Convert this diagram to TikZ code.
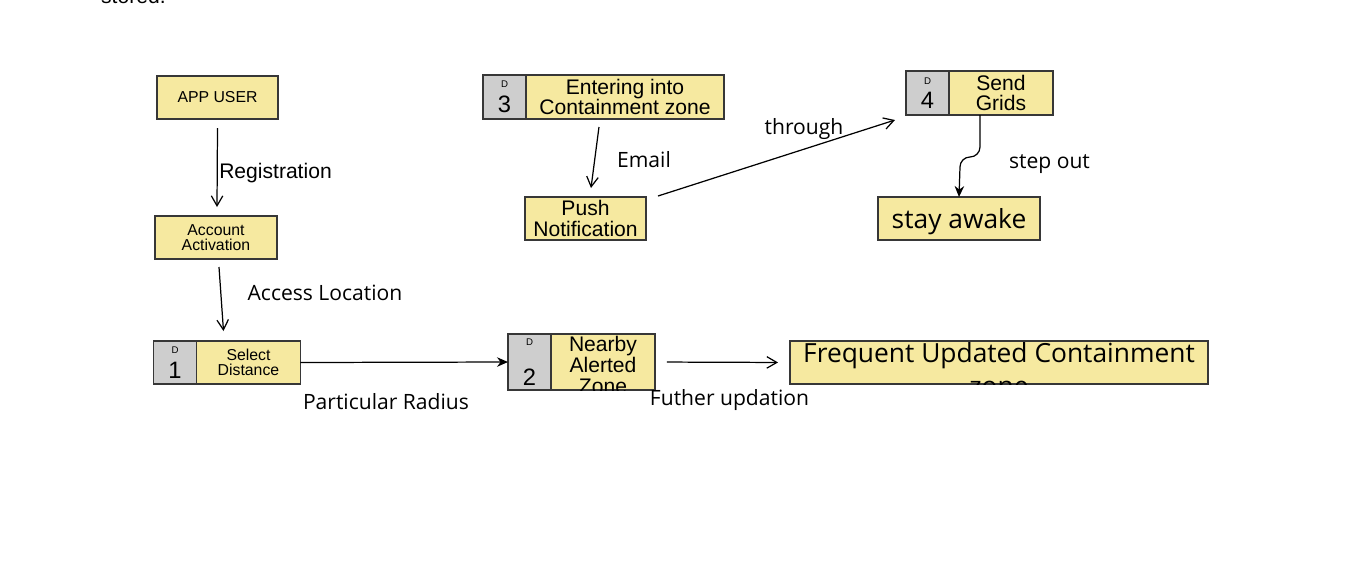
\documentclass[tikz,border=0pt]{standalone}
\usepackage{fontspec}
\setmainfont{Liberation Sans}
\newfontfamily\labelfont{Open Sans}
\usetikzlibrary{arrows.meta,positioning}

\definecolor{boxyellow}{RGB}{246,233,160}
\definecolor{boxgray}{RGB}{206,206,206}
\definecolor{edgegray}{RGB}{55,55,55}

\tikzset{
  procbox/.style={draw=edgegray, line width=0.85pt, fill=boxyellow, inner sep=0pt, outer sep=0pt, align=center, font=\fontsize{12}{11.5}\selectfont},
  idbox/.style={draw=edgegray, line width=0.85pt, fill=boxgray, inner sep=0pt, outer sep=0pt, align=center, minimum width=0.86cm, font=\fontsize{5.5}{13.5}\selectfont},
  lbl/.style={font=\labelfont\fontsize{12}{14}\selectfont, inner sep=0pt},
  flow/.style={-{Straight Barb[length=2mm,width=2.3mm]}, line width=0.7pt},
  solidflow/.style={-{Stealth[length=2.2mm,width=1.9mm]}, line width=0.7pt},
}
\newcommand{\dnum}[2][0pt]{D\\[#1]{\fontsize{13.5}{13.5}\selectfont #2}}

\begin{document}
\begin{tikzpicture}[x=0.02cm, y=-0.02cm]
\useasboundingbox (0,0) rectangle (1369,583);

% Nodes
\node[anchor=base west, font=\fontsize{12}{14}\selectfont] (stored) at (95,3) {stored.};
\node[procbox, font=\fontsize{9}{9}\selectfont, minimum width=2.42cm, minimum height=0.86cm] (appuser) at (217.5,97.5) {APP USER};
\node[procbox, font=\fontsize{9}{8.5}\selectfont, minimum width=2.44cm, minimum height=0.86cm] (activation) at (216,237.5) {Account\\Activation};

\node[idbox, minimum height=0.86cm] (d1id) at (175,362.5) {\dnum[0.5pt]{1}};
\node[procbox, font=\fontsize{9}{8.5}\selectfont, minimum width=2.08cm, minimum height=0.86cm, right=0pt of d1id] (d1name) {Select\\Distance};

\node[idbox, minimum height=1.12cm] (d2id) at (529.5,362) {\dnum[9.5pt]{2}};
\node[procbox, minimum width=2.08cm, minimum height=1.12cm, right=0pt of d2id] (d2name) {};
\begin{scope}
  \clip (d2name.north west) rectangle (d2name.south east);
  \node[align=center, inner sep=0pt, anchor=north, font=\fontsize{12}{12}\selectfont] (d2text) at ([yshift=-1]d2name.north) {Nearby\\Alerted\\Zone};
\end{scope}

\node[procbox, minimum width=8.36cm, minimum height=0.86cm] (frequent) at (999,362.5) {};
\begin{scope}
  \clip (frequent.north west) rectangle (frequent.south east);
  \node[align=center, inner sep=0pt, anchor=north, font=\labelfont\fontsize{15}{19}\selectfont] (freqtext) at ([yshift=-0.5]frequent.north) {Frequent Updated Containment\\zone};
\end{scope}

\node[idbox, minimum height=0.88cm] (d3id) at (504.5,97) {\dnum[0.5pt]{3}};
\node[procbox, minimum width=3.96cm, minimum height=0.88cm, right=0pt of d3id] (d3name) {Entering into\\Containment zone};
\node[procbox, minimum width=2.42cm, minimum height=0.86cm] (push) at (585.5,218.5) {Push\\Notification};

\node[idbox, minimum height=0.88cm] (d4id) at (927.5,93) {\dnum{4}};
\node[procbox, minimum width=2.08cm, minimum height=0.88cm, right=0pt of d4id] (d4name) {Send\\Grids};
\node[procbox, font=\labelfont\fontsize{15}{17}\selectfont, text depth=0pt, minimum width=3.24cm, minimum height=0.86cm] (awake) at (959,218.5) {stay awake};

% Labels
\node[inner sep=0pt, font=\fontsize{12}{14}\selectfont] (lregistration) at (275.5,173) {Registration};
\node[lbl] (laccess) at (325,293) {Access Location};
\node[lbl] (lradius) at (386,401.5) {Particular Radius};
\node[lbl] (lupdation) at (729.5,400) {Futher updation};
\node[lbl] (lemail) at (644,159.5) {Email};
\node[lbl] (lthrough) at (804,129) {through};
\node[lbl] (lstepout) at (1049.5,164.5) {step out};

% Connectors
\draw[flow] ([shift={(0,9)}]appuser.south) -- ([shift={(1,-9)}]activation.north);
\draw[flow] ([shift={(3,8)}]activation.south) -- ([shift={(27,-10)}]d1id.north east);
\draw[solidflow] (d1name.east) -- (d2id.west);
\draw[flow, shorten <=0.24cm, shorten >=0.24cm] (d2name.east) -- (frequent.west);
\draw[flow] ([shift={(-26,8)}]d3name.south) -- ([shift={(5.5,-9)}]push.north);
\draw[flow] ([shift={(12,-1)}]push.north east) -- ([shift={(-11,5)}]d4id.south west);
\draw[solidflow] ([shift={(31,0)}]d4name.south west) -- ++(0,32)
  to[out=-90, in=0] ++(-10,10) to[out=180, in=90] ++(-10,10) -- (awake.north);

\end{tikzpicture}
\end{document}
